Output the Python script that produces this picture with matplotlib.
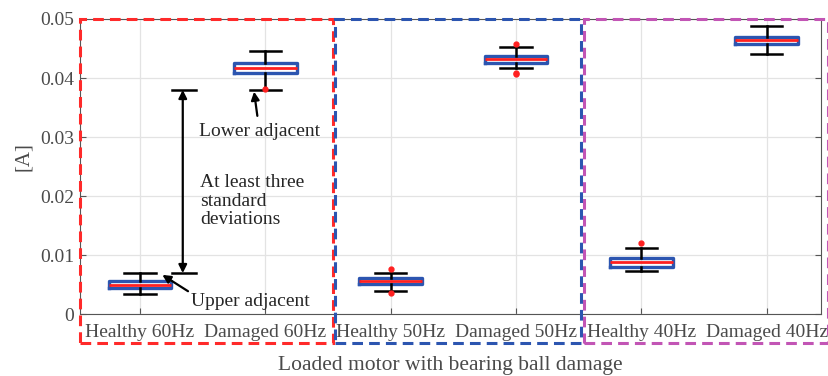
import numpy as np
import matplotlib.pyplot as plt
from matplotlib.patches import Rectangle

plt.rcParams['font.family'] = ['Liberation Serif', 'DejaVu Serif']

# current amplitude summary per condition
labels = ['Healthy 60Hz', 'Damaged 60Hz', 'Healthy 50Hz',
          'Damaged 50Hz', 'Healthy 40Hz', 'Damaged 40Hz']
medians = [0.0050, 0.0417, 0.0057, 0.0432, 0.0088, 0.0464]
q1 = [0.0044, 0.0409, 0.0051, 0.0425, 0.0081, 0.0458]
q3 = [0.0056, 0.0425, 0.0062, 0.0437, 0.0096, 0.0470]
whislo = [0.0034, 0.0380, 0.0039, 0.0417, 0.0074, 0.0441]
whishi = [0.0070, 0.0446, 0.0070, 0.0453, 0.0112, 0.0488]
outliers = [[], [0.0381], [0.0077, 0.0037], [0.0458, 0.0409, 0.0407], [0.0121], []]

# frequency groups framed by dashed boxes
group_edges = [(0.52, 2.54), (2.556, 4.517), (4.543, 6.49)]
group_colors = ['#ff2a2a', '#2c55b0', '#c255b5']

stats = []
for i in range(len(labels)):
    stats.append(dict(med=medians[i], q1=q1[i], q3=q3[i], whislo=whislo[i],
                      whishi=whishi[i], fliers=outliers[i], label=labels[i]))

fig = plt.figure(figsize=(8.29, 3.76), dpi=100)
ax = fig.add_axes([0.0965, 0.1636, 0.8942, 0.7859])

pos = np.arange(1, len(labels) + 1)
ax.bxp(stats, positions=pos, widths=0.5, capwidths=0.25, showfliers=True,
       boxprops=dict(color='#2c55b0', lw=2.4),
       medianprops=dict(color='#ff2020', lw=2.0),
       whiskerprops=dict(color='black', lw=1.8),
       capprops=dict(color='black', lw=1.8),
       flierprops=dict(marker='o', markerfacecolor='#ff2020', markeredgecolor='#ff2020',
                       markersize=3.5, linestyle='none'))

ax.set_xlim(0.521, 6.436)
ax.set_ylim(0, 0.05)
ax.set_yticks([0, 0.01, 0.02, 0.03, 0.04, 0.05])
ax.set_yticklabels(['0', '0.01', '0.02', '0.03', '0.04', '0.05'])
ax.set_xticks(pos)
ax.set_xticklabels(labels)
ax.grid(True, color='#e3e3e3', lw=0.9)
ax.set_axisbelow(True)
ax.tick_params(direction='in', length=4, width=0.8, color='#555555',
               labelsize=14, labelcolor='#4a4a4a', right=True)
ax.tick_params(axis='x', pad=7)
ax.tick_params(axis='y', pad=4)
for s in ax.spines.values():
    s.set_color('#555555')
    s.set_linewidth(0.8)

ax.set_ylabel('[A]', fontsize=15, color='#4a4a4a')
ax.yaxis.set_label_coords(-0.064, 0.533)
ax.set_xlabel('Loaded motor with bearing ball damage', fontsize=15.5,
              color='#4a4a4a', labelpad=11)

# dashed frames around each frequency pair
for (x0, x1), c in zip(group_edges, group_colors):
    ax.add_patch(Rectangle((x0, -0.0048), x1 - x0, 0.05 + 0.0048, fill=False,
                           ec=c, lw=2.2, ls=(0, (3.5, 2)), clip_on=False, zorder=5))

# separation marker between healthy and damaged at 60 Hz
sep_x = 1.341
sep_lo, sep_hi = whishi[0], whislo[1]
ax.plot([1.257, 1.444], [sep_lo, sep_lo], color='black', lw=1.8)
ax.plot([1.257, 1.444], [sep_hi, sep_hi], color='black', lw=1.8)
ax.annotate('', xy=(sep_x, sep_hi), xytext=(sep_x, sep_lo),
            arrowprops=dict(arrowstyle='<|-|>', color='black', lw=1.6,
                            mutation_scale=12, shrinkA=0, shrinkB=0))
ax.text(1.48, 0.0192, 'At least three\nstandard\ndeviations', fontsize=14,
        color='#262626', va='center', ha='left', linespacing=1.15)

ax.annotate('Lower adjacent', xy=(1.91, whislo[1] - 0.0003), xytext=(1.47, 0.0310),
            fontsize=14, color='#262626', va='center', ha='left',
            arrowprops=dict(arrowstyle='-|>', color='black', lw=1.6,
                            mutation_scale=12, shrinkA=3, shrinkB=0,
                            relpos=(0.49, 1.0)))
ax.annotate('Upper adjacent', xy=(1.178, whishi[0] - 0.0003), xytext=(1.405, 0.0022),
            fontsize=14, color='#262626', va='center', ha='left',
            arrowprops=dict(arrowstyle='-|>', color='black', lw=1.6,
                            mutation_scale=12, shrinkA=0, shrinkB=0,
                            relpos=(0.0, 1.0)))

fig.savefig('out.png', dpi=100)
